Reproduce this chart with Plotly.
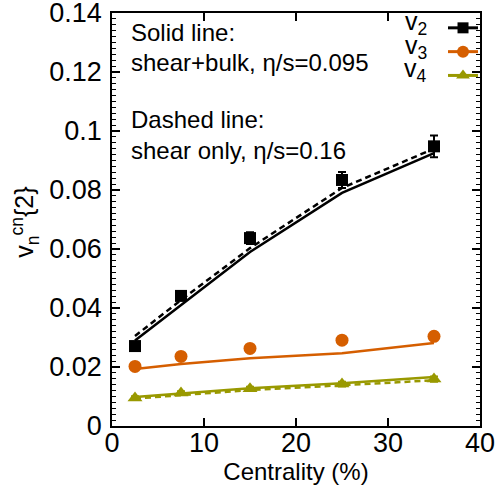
import plotly.graph_objects as go

centrality = [2.5, 7.5, 15, 25, 35]

v2_data = [0.0271, 0.0441, 0.0637, 0.0834, 0.0948]
v2_err = [0.0013, 0.0014, 0.0020, 0.0027, 0.0037]
v3_data = [0.0202, 0.0236, 0.0263, 0.0291, 0.0304]
v3_err = [0.0008, 0.0008, 0.0010, 0.0011, 0.0013]
v4_data = [0.0095, 0.0112, 0.0126, 0.0142, 0.0159]
v4_err = [0.0006, 0.0006, 0.0007, 0.0008, 0.0009]

v2_solid = [0.0290, 0.0410, 0.0590, 0.0790, 0.0925]
v2_dashed = [0.0305, 0.0427, 0.0603, 0.0807, 0.0940]
v3_solid = [0.0193, 0.0210, 0.0230, 0.0247, 0.0281]
v4_solid = [0.0098, 0.0111, 0.0128, 0.0145, 0.0166]
v4_dashed = [0.0093, 0.0105, 0.0122, 0.0138, 0.0155]

legend_labels = ["v<sub>2</sub>", "v<sub>3</sub>", "v<sub>4</sub>"]

BLACK = "#000000"
ORANGE = "#d55e00"
OLIVE = "#999900"
FONT = "Liberation Sans"

fig = go.Figure()

def line(y, color, dash):
    fig.add_trace(go.Scatter(x=centrality, y=y, mode="lines", showlegend=False,
                             line=dict(color=color, width=2.5, dash=dash)))

line(v2_solid, BLACK, "solid")
line(v2_dashed, BLACK, "6px,4px")
line(v3_solid, ORANGE, "solid")
line(v4_solid, OLIVE, "solid")
line(v4_dashed, OLIVE, "6px,4px")

def pts(y, err, color, symbol, size, name):
    fig.add_trace(go.Scatter(
        x=centrality, y=y, mode="markers", name=name, showlegend=False,
        marker=dict(color=color, symbol=symbol, size=size),
        error_y=dict(type="data", array=err, color=color, thickness=2, width=4),
    ))
    # legend key (no data, legend only)
    fig.add_trace(go.Scatter(
        x=[None], y=[None], mode="lines+markers", name="", showlegend=True,
        marker=dict(color=color, symbol=symbol, size=size - 1),
        line=dict(color=color, width=3),
    ))

pts(v2_data, v2_err, BLACK, "square", 12, "v2")
pts(v3_data, v3_err, ORANGE, "circle", 13, "v3")
pts(v4_data, v4_err, OLIVE, "triangle-up", 13, "v4")

for txt, y in zip(legend_labels, [0.976, 0.917, 0.861]):
    fig.add_annotation(text=txt, xref="paper", yref="paper", x=0.862, y=y,
                       xanchor="right", yanchor="middle", showarrow=False,
                       font=dict(family=FONT, size=25, color="black"))

for txt, y in [("Solid line:", 0.952), ("shear+bulk, η/s=0.095", 0.881),
               ("Dashed line:", 0.741), ("shear only, η/s=0.16", 0.668)]:
    fig.add_annotation(text=txt, xref="paper", yref="paper", x=0.045, y=y,
                       xanchor="left", yanchor="middle", showarrow=False,
                       font=dict(family=FONT, size=24, color="black"))

# y-axis title
fig.add_annotation(text="v<sub>n</sub><sup>cn</sup>{2}", xref="paper", yref="paper",
                   x=-0.237, y=0.494, textangle=-90, xanchor="center", yanchor="middle",
                   showarrow=False, font=dict(family=FONT, size=25, color="black"))

axis_common = dict(showgrid=False, zeroline=False, showline=True, linecolor="black",
                   linewidth=1.5, mirror="allticks", ticks="inside", ticklen=8,
                   tickcolor="black", tickwidth=1.5, automargin=False,
                   ticklabeloverflow="allow",
                   tickfont=dict(family=FONT, size=27, color="black"))

fig.update_xaxes(range=[0, 40], dtick=10, **axis_common, ticklabelstandoff=-8,
                 title=dict(text="Centrality (%)", font=dict(family=FONT, size=24, color="black"), standoff=0))
fig.update_yaxes(range=[0, 0.1400001], tickvals=[0, 0.02, 0.04, 0.06, 0.08, 0.1, 0.12, 0.14],
                 ticktext=["0", "0.02", "0.04", "0.06", "0.08", "0.1", "0.12", "0.14"],
                 **axis_common, ticklabelstandoff=3,
                 minor=dict(dtick=0.002, ticks="inside", ticklen=4, tickcolor="black", tickwidth=1))

fig.update_layout(
    width=501, height=488,
    margin=dict(l=112, r=21, t=13, b=62, autoexpand=False),
    paper_bgcolor="white", plot_bgcolor="white",
    showlegend=True,
    legend=dict(x=0.8995, y=1.005, xanchor="left", yanchor="top", bgcolor="rgba(0,0,0,0)",
                font=dict(family=FONT, size=16), tracegroupgap=0, itemwidth=30),
)

fig.write_html("out.html")
